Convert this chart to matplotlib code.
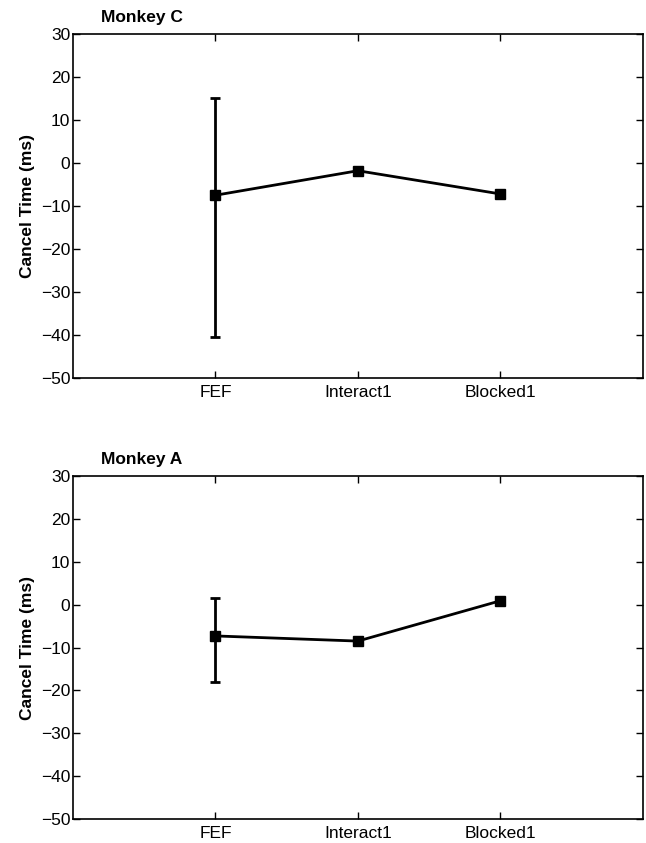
import numpy as np
import matplotlib
matplotlib.use('Agg')
import matplotlib.pyplot as plt

# data
conds = ['FEF', 'Interact1', 'Blocked1']
xpos = [1, 2, 3]
monkey_c = [-7.5, -1.8, -7.2]
monkey_a = [-7.3, -8.5, 0.9]
# FEF error bar ends (upper, lower)
c_err_hi = 15.2
c_err_lo = -40.5
a_err_hi = 1.6
a_err_lo = -18.0
yticks = [-50, -40, -30, -20, -10, 0, 10, 20, 30]

plt.rcParams['font.family'] = ['Liberation Sans', 'DejaVu Sans']
plt.rcParams['axes.unicode_minus'] = True

fig = plt.figure(figsize=(6.46, 8.43), dpi=100)
ax1 = fig.add_axes([0.113, 0.5516, 0.882, 0.4081])
ax2 = fig.add_axes([0.113, 0.0285, 0.882, 0.4068])

panels = [(ax1, 'Monkey C', monkey_c, c_err_hi, c_err_lo),
          (ax2, 'Monkey A', monkey_a, a_err_hi, a_err_lo)]

fs = 12.5
for ax, title, vals, hi, lo in panels:
    # error bar only on the FEF point
    ax.errorbar([xpos[0]], [vals[0]], yerr=[[vals[0] - lo], [hi - vals[0]]],
                fmt='none', ecolor='black', elinewidth=2, capsize=3.5, capthick=2)
    ax.plot(xpos, vals, '-s', color='black', lw=2, markersize=6.5)
    ax.set_xlim(0, 4)
    ax.set_ylim(-50, 30)
    ax.set_xticks(xpos)
    ax.set_xticklabels(conds)
    ax.set_yticks(yticks)
    ax.tick_params(direction='in', top=True, right=True, length=5, width=1,
                   labelsize=fs)
    ax.tick_params(axis='y', pad=2)
    ax.tick_params(axis='x', pad=5)
    for s in ax.spines.values():
        s.set_linewidth(1.2)
    ax.set_ylabel('Cancel Time (ms)', fontsize=fs, fontweight='bold', labelpad=4)
    ax.text(0.05, 1.025, title, transform=ax.transAxes, fontsize=fs,
            fontweight='bold', ha='left', va='bottom')

fig.savefig('out.png', dpi=100)
